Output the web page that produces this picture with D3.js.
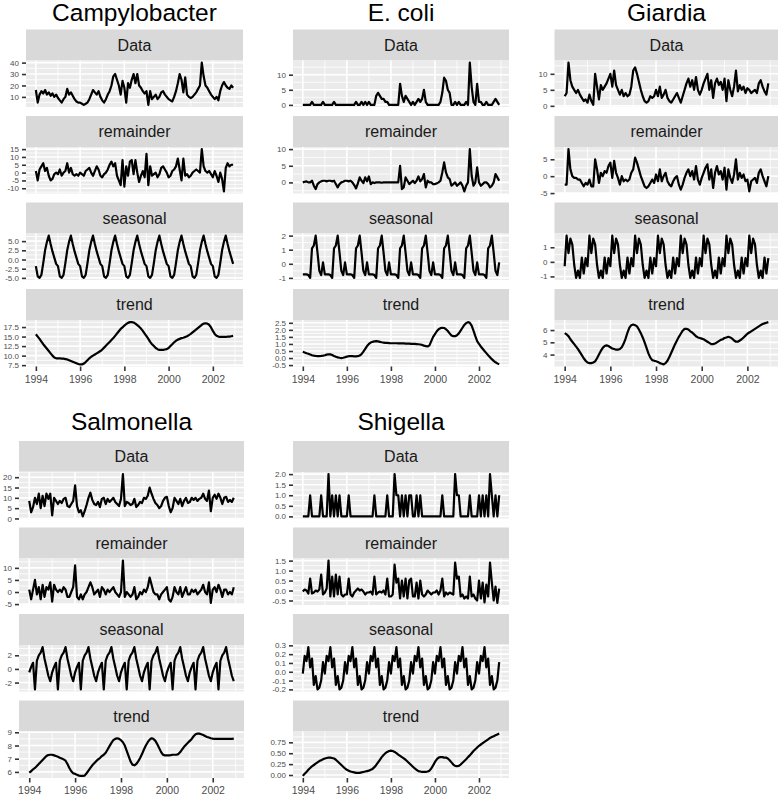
<!DOCTYPE html>
<html lang="en">
<head>
<meta charset="utf-8">
<title>STL decompositions</title>
<script src="https://cdn.jsdelivr.net/npm/d3@7"></script>
<style>
  body { margin: 0; background: #fff; }
  svg { display: block; font-family: "Liberation Sans", Arial, Helvetica, sans-serif; }
</style>
</head>
<body>
<svg id="chart" width="778" height="795"></svg>
<script>
// monthly series Jan 1994 .. Dec 2002
var months = d3.range(108).map(i => 1994 + i / 12);
var yearTicks = [1994, 1996, 1998, 2000, 2002];
var facetNames = ["Data", "remainder", "seasonal", "trend"];

// ---- Campylobacter
var campyData = [
  16, 5, 12, 15, 13, 16, 12, 14, 11, 13, 10, 12,
  9, 7, 5, 8, 10, 17, 12, 14, 11, 8, 6, 5,
  5, 4, 3, 4, 5, 8, 12, 16, 14, 12, 15, 10,
  7, 5, 8, 12, 15, 20, 28, 30, 25, 20, 12, 24,
  18, 5, 22, 18, 25, 30, 22, 30, 20, 18, 15, 13,
  15, 3, 15, 8, 10, 12, 8, 10, 14, 15, 12, 10,
  8, 7, 6, 10, 15, 22, 30, 25, 14, 27, 12, 10,
  9, 10, 12, 14, 17, 20, 40, 28, 20, 18, 15, 12,
  10, 8, 10, 7, 15, 20, 23, 20, 18, 17, 20, 18];
var campyRemainder = [
  1, -5, 2, 4, 6, 1, 3, -2, -5, -4, -1, 0,
  -1, 2, -2, 0, 1, 6, 0, 3, -1, -2, -1, -2,
  0, -1, -2, 1, 2, 3, 0, -2, 1, 4, 2, -2,
  -3, -1, 0, 2, 5, 7, 4, 6, -2, -5, -8, 8,
  -9, 4, -2, 7, 8, -1, 8, 0, -6, -2, 1, -3,
  12, -8, 4, -2, -1, 0, -3, -1, 3, 4, 2, 0,
  -3, -2, 1, 2, 4, 9, 2, -5, 9, -2, -1, -3,
  -2, 0, 1, 2, 1, 0, 15, 4, 1, 0, 1, -1,
  -3, 1, -2, -6, 0, -4, -12, 3, 6, 4, 5, 5];
var campySeasonal = [
  -1.8, -4.6, -5.0, -4.2, -1.0, 2.5, 4.8, 6.5, 4.2, 2.2, 0.5, -1.2,
  -1.8, -4.6, -5.0, -4.2, -1.0, 2.5, 4.8, 6.5, 4.2, 2.2, 0.5, -1.2,
  -1.8, -4.6, -5.0, -4.2, -1.0, 2.5, 4.8, 6.5, 4.2, 2.2, 0.5, -1.2,
  -1.8, -4.6, -5.0, -4.2, -1.0, 2.5, 4.8, 6.5, 4.2, 2.2, 0.5, -1.2,
  -1.8, -4.6, -5.0, -4.2, -1.0, 2.5, 4.8, 6.5, 4.2, 2.2, 0.5, -1.2,
  -1.8, -4.6, -5.0, -4.2, -1.0, 2.5, 4.8, 6.5, 4.2, 2.2, 0.5, -1.2,
  -1.8, -4.6, -5.0, -4.2, -1.0, 2.5, 4.8, 6.5, 4.2, 2.2, 0.5, -1.2,
  -1.8, -4.6, -5.0, -4.2, -1.0, 2.5, 4.8, 6.5, 4.2, 2.2, 0.5, -1.2,
  -1.8, -4.6, -5.0, -4.2, -1.0, 2.5, 4.8, 6.5, 4.2, 2.2, 0.5, -1.2];
var campyTrend = [
  15.6, 15.0, 14.4, 13.7, 13.0, 12.4, 11.8, 11.2, 10.6, 10.0, 9.5, 9.3,
  9.3, 9.3, 9.2, 9.2, 9.1, 9.0, 8.8, 8.6, 8.4, 8.2, 8.0, 7.8,
  7.7, 7.7, 7.9, 8.3, 8.8, 9.3, 9.7, 10.0, 10.3, 10.6, 10.9, 11.2,
  11.6, 12.1, 12.6, 13.1, 13.6, 14.1, 14.6, 15.2, 15.8, 16.4, 17.0, 17.4,
  17.9, 18.3, 18.6, 18.8, 18.8, 18.7, 18.4, 18.0, 17.6, 17.1, 16.5, 15.8,
  15.1, 14.4, 13.6, 13.0, 12.5, 12.0, 11.7, 11.5, 11.5, 11.5, 11.6, 11.7,
  12.0, 12.5, 13.0, 13.5, 13.9, 14.2, 14.4, 14.6, 14.7, 14.9, 15.1, 15.4,
  15.7, 16.1, 16.5, 16.9, 17.3, 17.7, 18.1, 18.4, 18.5, 18.4, 18.1, 17.4,
  16.5, 15.7, 15.2, 15.0, 14.9, 14.9, 14.9, 14.9, 15.0, 15.0, 15.1, 15.2];
var campyTicks = [["10", "20", "30", "40"], ["-10", "-5", "0", "5", "10", "15"],
  ["-5.0", "-2.5", "0.0", "2.5", "5.0"], ["7.5", "10.0", "12.5", "15.0", "17.5"]];

// ---- E. coli
var ecoliData = [
  0, 0, 0, 0, 0, 1, 0, 0, 0, 0, 0, 1,
  0, 0, 0, 0, 0, 1, 0, 0, 0, 0, 0, 0,
  0, 0, 0, 0, 0, 1, 0, 0, 1, 0, 1, 0,
  1, 0, 0, 0, 3, 4, 3, 2, 2, 1, 1, 0,
  0, 0, 0, 0, 0, 7, 3, 1, 3, 2, 1, 0,
  1, 0, 1, 2, 1, 2, 5, 1, 0, 0, 0, 0,
  0, 0, 0, 1, 4, 9, 8, 5, 4, 0, 0, 1,
  0, 1, 0, 0, 0, 1, 0, 14, 6, 1, 0, 7,
  1, 1, 0, 0, 1, 0, 0, 0, 1, 2, 1, 0];
var ecoliRemainder = [
  0, 0.2, 0.3, 0, 0, 0.5, -1, -2, -0.5, 0, 0.3, 0.5,
  0.5, 0.3, 0.5, 0.5, 0.3, 0.5, -0.5, -1.5, -0.5, 0, 0.2, 0.5,
  0.5, 0.3, 0.5, 0, -0.8, -1.8, -0.3, 1.5, 0.5, -0.2, 1.5, 0.3,
  1.8, -0.5, 0, -0.2, 0, 0, 0, -0.1, 0, 0, 0, 0,
  0, 0, 0, 0, 0, 5, -2, -1.5, 1.5, 0.5, -0.5, 0,
  0.5, -0.2, 0.5, 1.8, 0.3, 1.0, 2.5, -1.5, 0.5, 0, 0, -0.5,
  -0.5, -0.3, 0, 0.5, 3, 6, 3, 1.5, 1, -1, -0.5, 0,
  -1, -0.5, 0, -1, -2.7, -1, 0, 10, 2, -1, 0, 4.5,
  0, -1, -0.5, 0, 0, -0.5, -1.5, -1, 0, 2.5, 1.5, 0.5];
var ecoliSeasonal = [
  -0.75, -0.75, -0.75, -0.8, -1.0, 1.1, 1.3, 2.0, 0.8, -0.5, -0.8, 0.1,
  -0.75, -0.75, -0.75, -0.8, -1.0, 1.1, 1.3, 2.0, 0.8, -0.5, -0.8, 0.1,
  -0.75, -0.75, -0.75, -0.8, -1.0, 1.1, 1.3, 2.0, 0.8, -0.5, -0.8, 0.1,
  -0.75, -0.75, -0.75, -0.8, -1.0, 1.1, 1.3, 2.0, 0.8, -0.5, -0.8, 0.1,
  -0.75, -0.75, -0.75, -0.8, -1.0, 1.1, 1.3, 2.0, 0.8, -0.5, -0.8, 0.1,
  -0.75, -0.75, -0.75, -0.8, -1.0, 1.1, 1.3, 2.0, 0.8, -0.5, -0.8, 0.1,
  -0.75, -0.75, -0.75, -0.8, -1.0, 1.1, 1.3, 2.0, 0.8, -0.5, -0.8, 0.1,
  -0.75, -0.75, -0.75, -0.8, -1.0, 1.1, 1.3, 2.0, 0.8, -0.5, -0.8, 0.1,
  -0.75, -0.75, -0.75, -0.8, -1.0, 1.1, 1.3, 2.0, 0.8, -0.5, -0.8, 0.1];
var ecoliTrend = [
  0.45, 0.40, 0.34, 0.30, 0.25, 0.20, 0.17, 0.15, 0.14, 0.14, 0.15, 0.17,
  0.20, 0.24, 0.27, 0.26, 0.22, 0.15, 0.09, 0.05, 0.02, 0.00, 0.02, 0.06,
  0.10, 0.13, 0.14, 0.13, 0.12, 0.12, 0.13, 0.18, 0.28, 0.45, 0.65, 0.85,
  1.00, 1.10, 1.15, 1.18, 1.20, 1.18, 1.15, 1.12, 1.10, 1.08, 1.07, 1.06,
  1.05, 1.05, 1.05, 1.05, 1.04, 1.04, 1.04, 1.04, 1.03, 1.03, 1.02, 1.01,
  1.00, 1.00, 0.99, 0.98, 0.96, 0.93, 0.88, 0.85, 0.82, 0.90, 1.20, 1.50,
  1.70, 1.90, 2.05, 2.12, 2.15, 2.13, 2.05, 1.92, 1.75, 1.60, 1.55, 1.55,
  1.62, 1.75, 1.95, 2.15, 2.35, 2.48, 2.55, 2.50, 2.30, 1.95, 1.55, 1.20,
  1.00, 0.82, 0.66, 0.50, 0.35, 0.20, 0.06, -0.08, -0.20, -0.30, -0.38, -0.45];
var ecoliTicks = [["0", "5", "10"], ["0", "5", "10"], ["-1", "0", "1", "2"],
  ["-0.5", "0.0", "0.5", "1.0", "1.5", "2.0", "2.5"]];

// ---- Giardia
var giardiaData = [
  3, 4, 13.5, 8, 6, 5, 4, 5, 3.5, 2.5, 1.5, 2,
  1, 3.5, 1.5, 0.3, 10, 6, 2, 6.5, 5, 6, 7, 8.5,
  10, 6, 11, 6.5, 5, 3.5, 5, 3, 4, 3, 3.5, 6,
  11, 12, 10, 7.5, 5, 3, 1.5, 1, 1.5, 3, 2.5, 3,
  5, 3, 6, 2.5, 3.5, 5, 2.5, 1.5, 1, 2, 3, 4,
  2.5, 1, 3, 5, 7, 8.5, 6, 8, 5, 9, 5, 3.5,
  5, 7, 8.5, 10, 5, 8, 2.5, 7, 8.5, 6.5, 7.5, 5,
  8.5, 1.5, 8, 5, 3, 6, 11, 4.5, 6.5, 5, 6, 4,
  5.5, 5, 4, 4.5, 5, 4, 7, 8, 6, 4.5, 3.5, 7];
var giardiaRemainder = [
  -2.5, -2.5, 8, 2, 0, -0.5, -0.5, -1, -1, -2, -3, -2,
  -2.5, -1, -3, -3, 5, 2, -2, 1, 0, 1.5, 1, 3,
  4, -0.5, 4.5, 1, -0.5, -2.5, 0, -1.5, -1, -1.5, -1, 1,
  2, 5.5, 4, 2, 0, -1.5, -3, -3.5, -3, -2, -1, -2,
  0.5, -1.5, 2, -1.5, 0, 1, -1.5, -2.5, -3, -1.5, -0.5, 0,
  -2.5, -4, -2.5, -0.5, 1, 2, 0, 1.5, -1, 3, -1, -2.5,
  -0.5, 1, 2.5, 3.5, -1, 2, -3.5, 1, 3, 0.5, 1.5, -1,
  2.5, -4, 2, -0.5, -2, 0.5, 5, -1, 1, -0.5, 0.5, -1.5,
  -1, -4.5, -1.5, -1, -0.5, -2, 1, 2, 0, -1.5, -3, 0];
var giardiaSeasonal = [
  -0.3, 1.8, 0.6, 1.6, 1.2, -0.2, -1.1, -0.6, -1.1, 0.3, -0.8, 0.25,
  -0.3, 1.8, 0.6, 1.6, 1.2, -0.2, -1.1, -0.6, -1.1, 0.3, -0.8, 0.25,
  -0.3, 1.8, 0.6, 1.6, 1.2, -0.2, -1.1, -0.6, -1.1, 0.3, -0.8, 0.25,
  -0.3, 1.8, 0.6, 1.6, 1.2, -0.2, -1.1, -0.6, -1.1, 0.3, -0.8, 0.25,
  -0.3, 1.8, 0.6, 1.6, 1.2, -0.2, -1.1, -0.6, -1.1, 0.3, -0.8, 0.25,
  -0.3, 1.8, 0.6, 1.6, 1.2, -0.2, -1.1, -0.6, -1.1, 0.3, -0.8, 0.25,
  -0.3, 1.8, 0.6, 1.6, 1.2, -0.2, -1.1, -0.6, -1.1, 0.3, -0.8, 0.25,
  -0.3, 1.8, 0.6, 1.6, 1.2, -0.2, -1.1, -0.6, -1.1, 0.3, -0.8, 0.25,
  -0.3, 1.8, 0.6, 1.6, 1.2, -0.2, -1.1, -0.6, -1.1, 0.3, -0.8, 0.25];
var giardiaTrend = [
  5.75, 5.65, 5.5, 5.25, 5.05, 4.85, 4.65, 4.45, 4.2, 3.95, 3.7, 3.5,
  3.35, 3.3, 3.3, 3.35, 3.45, 3.7, 4.0, 4.3, 4.55, 4.7, 4.75, 4.7,
  4.6, 4.5, 4.45, 4.4, 4.4, 4.45, 4.6, 4.9, 5.3, 5.8, 6.2, 6.4,
  6.45, 6.4, 6.3, 6.05, 5.75, 5.4, 5.0, 4.55, 4.1, 3.75, 3.55, 3.5,
  3.45, 3.4, 3.3, 3.25, 3.2, 3.3, 3.5, 3.8, 4.15, 4.5, 4.85, 5.15,
  5.45, 5.7, 5.95, 6.1, 6.1, 6.05, 5.9, 5.8, 5.65, 5.5, 5.4, 5.35,
  5.3, 5.25, 5.15, 5.05, 4.95, 4.85, 4.85, 4.9, 5.0, 5.1, 5.2, 5.25,
  5.35, 5.4, 5.45, 5.4, 5.3, 5.15, 5.05, 5.05, 5.15, 5.25, 5.4, 5.55,
  5.7, 5.8, 5.9, 6.0, 6.1, 6.2, 6.3, 6.4, 6.5, 6.55, 6.6, 6.65];
var giardiaTicks = [["0", "5", "10"], ["-5", "0", "5"], ["-1", "0", "1"], ["4", "5", "6"]];

// ---- Salmonella
var salmData = [
  8.5, 3, 5.5, 10, 7, 12, 5, 11, 6, 12, 9.5, 12,
  1.5, 10, 8.5, 7, 8.5, 7.5, 9.5, 10, 6, 5.5, 7, 8.5,
  16, 6, 3, 4, 1, 3.5, 6.5, 10, 12.5, 9, 7, 6.5,
  8, 5.5, 9.5, 10, 7, 9.5, 8, 9, 10, 8, 7, 6,
  9.5, 21.5, 6, 8, 7.5, 6.5, 7, 9.5, 5.5, 6.5, 8, 7.5,
  10, 9.5, 11, 15, 12, 9.5, 7.5, 6.5, 5, 6, 8.5, 10,
  10.5, 6, 3, 5, 10, 8.5, 7, 9.5, 6, 8.5, 10, 7.5,
  8, 10, 9, 10, 8.5, 9.5, 10, 12, 9.5, 8.5, 13.5, 3.5,
  10, 11.5, 9.5, 12, 10, 7, 10, 10.5, 8, 9, 8, 10];
var salmRemainder = [
  1, -3, 1, 5, -1, 2, -3, 3, -2, 2, 1, 4,
  -4, 3, 1, 0, 1, 0, 2, 1, -2, -2, 0, 2,
  11, -2, -3, -1, -3, -1, 0, 2, 4, 2, -1, 0,
  1, -2, 2, 1, -1, 1, 0, 1, 2, 0, -1, -2,
  0, 13, -2, 0, -1, -2, -1, 2, -3, -2, 0, -1,
  1, 0, 2, 6, 3, 0, -1, -1, -3, -1, 0, 1,
  2, -3, -4, -2, 2, 0, -1, 2, -2, 0, 2, -1,
  -1, 1, 0, 1, -1, 0, 1, 3, 0, -1, 4, -4.5,
  1, 2, 0, 3, 1, -2, 1, 1, -1, 0, -1, 2];
var salmSeasonal = [
  -0.5, 0.3, 0.9, -3.0, 1.2, 2.0, 2.4, 3.2, 1.5, 0.3, -1.0, -1.8,
  -0.5, 0.3, 0.9, -3.0, 1.2, 2.0, 2.4, 3.2, 1.5, 0.3, -1.0, -1.8,
  -0.5, 0.3, 0.9, -3.0, 1.2, 2.0, 2.4, 3.2, 1.5, 0.3, -1.0, -1.8,
  -0.5, 0.3, 0.9, -3.0, 1.2, 2.0, 2.4, 3.2, 1.5, 0.3, -1.0, -1.8,
  -0.5, 0.3, 0.9, -3.0, 1.2, 2.0, 2.4, 3.2, 1.5, 0.3, -1.0, -1.8,
  -0.5, 0.3, 0.9, -3.0, 1.2, 2.0, 2.4, 3.2, 1.5, 0.3, -1.0, -1.8,
  -0.5, 0.3, 0.9, -3.0, 1.2, 2.0, 2.4, 3.2, 1.5, 0.3, -1.0, -1.8,
  -0.5, 0.3, 0.9, -3.0, 1.2, 2.0, 2.4, 3.2, 1.5, 0.3, -1.0, -1.8,
  -0.5, 0.3, 0.9, -3.0, 1.2, 2.0, 2.4, 3.2, 1.5, 0.3, -1.0, -1.8];
var salmTrend = [
  5.95, 6.05, 6.2, 6.3, 6.45, 6.6, 6.75, 6.9, 7.05, 7.2, 7.28, 7.3,
  7.3, 7.25, 7.2, 7.15, 7.08, 7.02, 6.95, 6.85, 6.6, 6.3, 6.05, 5.9,
  5.85, 5.78, 5.72, 5.7, 5.7, 5.72, 5.9, 6.1, 6.3, 6.5, 6.65, 6.8,
  6.95, 7.05, 7.2, 7.3, 7.45, 7.7, 7.95, 8.2, 8.4, 8.5, 8.55, 8.5,
  8.4, 8.25, 8.0, 7.6, 7.2, 6.8, 6.55, 6.5, 6.6, 6.8, 7.05, 7.35,
  7.7, 8.0, 8.25, 8.45, 8.55, 8.5, 8.35, 8.1, 7.8, 7.5, 7.3, 7.25,
  7.25, 7.25, 7.27, 7.3, 7.3, 7.3, 7.35, 7.5, 7.7, 7.9, 8.05, 8.2,
  8.35, 8.5, 8.7, 8.85, 8.9, 8.9, 8.85, 8.8, 8.72, 8.65, 8.6, 8.55,
  8.52, 8.5, 8.5, 8.5, 8.5, 8.5, 8.5, 8.5, 8.5, 8.5, 8.5, 8.52];
var salmTicks = [["0", "5", "10", "15", "20"], ["-5", "0", "5", "10"], ["-2", "0", "2"], ["6", "7", "8", "9"]];

// ---- Shigella
var shigData = [
  0, 0, 0, 0, 1, 0, 0, 0, 0, 0, 1, 0,
  0, 0, 2, 0, 1, 0, 1, 0, 1, 0, 0, 0,
  0, 1, 0, 0, 0, 0, 0, 0, 0, 0, 0, 0,
  0, 0, 0, 1, 0, 0, 0, 0, 0, 0, 1, 0,
  0, 0, 2, 1, 1, 0, 1, 0, 1, 0, 1, 1,
  0, 0, 1, 0, 1, 0, 0, 0, 0, 0, 0, 0,
  0, 0, 0, 0, 1, 0, 0, 0, 0, 0, 0, 2,
  1, 1, 0, 0, 0, 0, 0, 1, 0, 0, 0, 0,
  1, 0, 1, 0, 1, 0, 2, 1, 0, 1, 0, 1];
var shigRemainder = [
  -0.05, 0.05, 0, -0.15, 0.6, -0.15, -0.1, 0, -0.05, 0.05, 0.8, -0.2,
  -0.1, 0.1, 1.5, -0.3, 0.7, -0.3, 0.8, -0.2, 0.7, -0.2, -0.3, -0.2,
  -0.2, 0.6, -0.2, -0.3, -0.1, 0, 0.1, 0, 0.05, -0.05, -0.2, -0.1,
  -0.1, -0.05, -0.2, 0.7, -0.2, -0.1, -0.05, -0.1, 0, -0.2, 0.6, -0.3,
  -0.3, -0.2, 1.3, 0.4, 0.6, -0.4, 0.5, -0.3, 0.6, -0.4, 0.5, 0.6,
  -0.3, -0.3, 0.4, -0.4, 0.5, -0.2, -0.3, -0.2, 0, -0.1, -0.2, -0.1,
  -0.1, 0, -0.2, 0, 0.6, -0.3, -0.1, -0.2, -0.1, -0.15, -0.2, 1.4,
  0.6, 0.7, -0.3, -0.2, -0.4, -0.3, -0.4, 0.7, -0.3, -0.2, -0.4, -0.5,
  0.5, -0.4, 0.4, -0.6, 0.3, -0.3, 1.4, 0.4, -0.5, 0.2, -0.62, 0.1];
var shigSeasonal = [
  -0.02, 0.18, 0.12, 0.28, 0.05, 0.15, -0.15, -0.05, -0.2, -0.18, -0.1, 0.11,
  -0.02, 0.18, 0.12, 0.28, 0.05, 0.15, -0.15, -0.05, -0.2, -0.18, -0.1, 0.11,
  -0.02, 0.18, 0.12, 0.28, 0.05, 0.15, -0.15, -0.05, -0.2, -0.18, -0.1, 0.11,
  -0.02, 0.18, 0.12, 0.28, 0.05, 0.15, -0.15, -0.05, -0.2, -0.18, -0.1, 0.11,
  -0.02, 0.18, 0.12, 0.28, 0.05, 0.15, -0.15, -0.05, -0.2, -0.18, -0.1, 0.11,
  -0.02, 0.18, 0.12, 0.28, 0.05, 0.15, -0.15, -0.05, -0.2, -0.18, -0.1, 0.11,
  -0.02, 0.18, 0.12, 0.28, 0.05, 0.15, -0.15, -0.05, -0.2, -0.18, -0.1, 0.11,
  -0.02, 0.18, 0.12, 0.28, 0.05, 0.15, -0.15, -0.05, -0.2, -0.18, -0.1, 0.11,
  -0.02, 0.18, 0.12, 0.28, 0.05, 0.15, -0.15, -0.05, -0.2, -0.18, -0.1, 0.11];
var shigTrend = [
  -0.02, 0.03, 0.07, 0.12, 0.16, 0.2, 0.23, 0.26, 0.29, 0.32, 0.34, 0.36,
  0.38, 0.39, 0.4, 0.4, 0.39, 0.38, 0.35, 0.31, 0.27, 0.23, 0.19, 0.15,
  0.12, 0.1, 0.08, 0.07, 0.06, 0.05, 0.05, 0.05, 0.06, 0.07, 0.08, 0.09,
  0.1, 0.12, 0.14, 0.18, 0.23, 0.29, 0.35, 0.41, 0.46, 0.5, 0.53, 0.55,
  0.56, 0.55, 0.53, 0.5, 0.47, 0.44, 0.41, 0.38, 0.35, 0.31, 0.27, 0.23,
  0.19, 0.15, 0.12, 0.09, 0.08, 0.07, 0.07, 0.07, 0.08, 0.1, 0.15, 0.22,
  0.3, 0.36, 0.4, 0.41, 0.41, 0.4, 0.4, 0.38, 0.34, 0.29, 0.24, 0.21,
  0.2, 0.21, 0.24, 0.28, 0.32, 0.36, 0.41, 0.45, 0.5, 0.55, 0.59, 0.63,
  0.67, 0.7, 0.73, 0.76, 0.79, 0.82, 0.85, 0.87, 0.89, 0.91, 0.93, 0.95];
var shigTicks = [["0.0", "0.5", "1.0", "1.5", "2.0"], ["-0.5", "0.0", "0.5", "1.0", "1.5"],
  ["-0.2", "-0.1", "0.0", "0.1", "0.2", "0.3"], ["0.00", "0.25", "0.50", "0.75"]];

// layout of the five small multiples
var charts = [
  {name: "Campylobacter", x0: 26, x1: 243, top: 29.5, titleY: 20.5,
   series: [campyData, campyRemainder, campySeasonal, campyTrend], ticks: campyTicks},
  {name: "E. coli", x0: 293, x1: 509, top: 29.5, titleY: 20.5,
   series: [ecoliData, ecoliRemainder, ecoliSeasonal, ecoliTrend], ticks: ecoliTicks},
  {name: "Giardia", x0: 554.5, x1: 778.5, top: 29.5, titleY: 20.5,
   series: [giardiaData, giardiaRemainder, giardiaSeasonal, giardiaTrend], ticks: giardiaTicks},
  {name: "Salmonella", x0: 19, x1: 244, top: 441, titleY: 430,
   series: [salmData, salmRemainder, salmSeasonal, salmTrend], ticks: salmTicks},
  {name: "Shigella", x0: 293, x1: 509, top: 441, titleY: 430,
   series: [shigData, shigRemainder, shigSeasonal, shigTrend], ticks: shigTicks}
];

var stripH = 31, panelH = 46.5, gap = 9;
var svg = d3.select("#chart");

var xExt = d3.extent(months), xPad = (xExt[1] - xExt[0]) * 0.05;
var xMinor = [1995, 1997, 1999, 2001, 2003];

charts.forEach(function(c) {
  var g = svg.append("g");
  var x = d3.scaleLinear().domain([xExt[0] - xPad, xExt[1] + xPad]).range([c.x0, c.x1]);

  g.append("text")
    .attr("x", (c.x0 + c.x1) / 2)
    .attr("y", c.titleY)
    .attr("text-anchor", "middle")
    .style("font-size", "24.5px")
    .style("fill", "#000")
    .text(c.name);

  c.series.forEach(function(vals, k) {
    var sTop = c.top + k * (stripH + panelH + gap);
    var pTop = sTop + stripH, pBot = pTop + panelH;

    // strip
    g.append("rect")
      .attr("x", c.x0).attr("y", sTop)
      .attr("width", c.x1 - c.x0).attr("height", stripH)
      .attr("fill", "#D9D9D9");
    g.append("text")
      .attr("x", (c.x0 + c.x1) / 2)
      .attr("y", sTop + stripH / 2 + 5.5)
      .attr("text-anchor", "middle")
      .style("font-size", "16px")
      .style("fill", "#1A1A1A")
      .text(facetNames[k]);

    // panel
    var ext = d3.extent(vals), pad = (ext[1] - ext[0]) * 0.05;
    var y = d3.scaleLinear().domain([ext[0] - pad, ext[1] + pad]).range([pBot, pTop]);
    g.append("rect")
      .attr("x", c.x0).attr("y", pTop)
      .attr("width", c.x1 - c.x0).attr("height", panelH)
      .attr("fill", "#EBEBEB");

    var tv = c.ticks[k].map(Number);
    var step = tv[1] - tv[0];
    var yMinor = [tv[0] - step / 2].concat(tv.map(t => t + step / 2))
      .filter(v => v > y.domain()[0] && v < y.domain()[1]);

    g.selectAll(null).data(yMinor).enter().append("line")
      .attr("x1", c.x0).attr("x2", c.x1)
      .attr("y1", d => y(d)).attr("y2", d => y(d))
      .attr("stroke", "#fff").attr("stroke-width", 0.8);
    g.selectAll(null).data(xMinor.filter(v => x(v) < c.x1)).enter().append("line")
      .attr("x1", d => x(d)).attr("x2", d => x(d))
      .attr("y1", pTop).attr("y2", pBot)
      .attr("stroke", "#fff").attr("stroke-width", 0.8);
    g.selectAll(null).data(tv).enter().append("line")
      .attr("x1", c.x0).attr("x2", c.x1)
      .attr("y1", d => y(d)).attr("y2", d => y(d))
      .attr("stroke", "#fff").attr("stroke-width", 1.6);
    g.selectAll(null).data(yearTicks).enter().append("line")
      .attr("x1", d => x(d)).attr("x2", d => x(d))
      .attr("y1", pTop).attr("y2", pBot)
      .attr("stroke", "#fff").attr("stroke-width", 1.6);

    // series line
    g.append("path")
      .datum(vals)
      .attr("fill", "none")
      .attr("stroke", "#000")
      .attr("stroke-width", 2.2)
      .attr("stroke-linejoin", "round")
      .attr("d", d3.line().x((d, i) => x(months[i])).y(d => y(d)));

    // y axis
    var labels = c.ticks[k];
    var yAxis = g.append("g")
      .attr("transform", "translate(" + c.x0 + ",0)")
      .call(d3.axisLeft(y).tickValues(tv)
        .tickFormat((d, i) => labels[i])
        .tickSizeInner(4).tickSizeOuter(0).tickPadding(3));
    yAxis.select(".domain").remove();
    yAxis.selectAll("line").attr("stroke", "#333").attr("stroke-width", 1.6);
    yAxis.selectAll("text").style("font-size", "8px").style("fill", "#4D4D4D")
      .style("font-family", "'Liberation Sans', Arial, sans-serif");

    // x axis under the last facet
    if (k === 3) {
      var xAxis = g.append("g")
        .attr("transform", "translate(0," + pBot + ")")
        .call(d3.axisBottom(x).tickValues(yearTicks).tickFormat(d3.format("d"))
          .tickSizeInner(4.5).tickSizeOuter(0).tickPadding(4.5));
      xAxis.select(".domain").remove();
      xAxis.selectAll("line").attr("stroke", "#333").attr("stroke-width", 1.6);
      xAxis.selectAll("text").style("font-size", "10.5px").style("fill", "#4D4D4D")
        .style("font-family", "'Liberation Sans', Arial, sans-serif");
    }
  });
});
</script>
</body>
</html>
